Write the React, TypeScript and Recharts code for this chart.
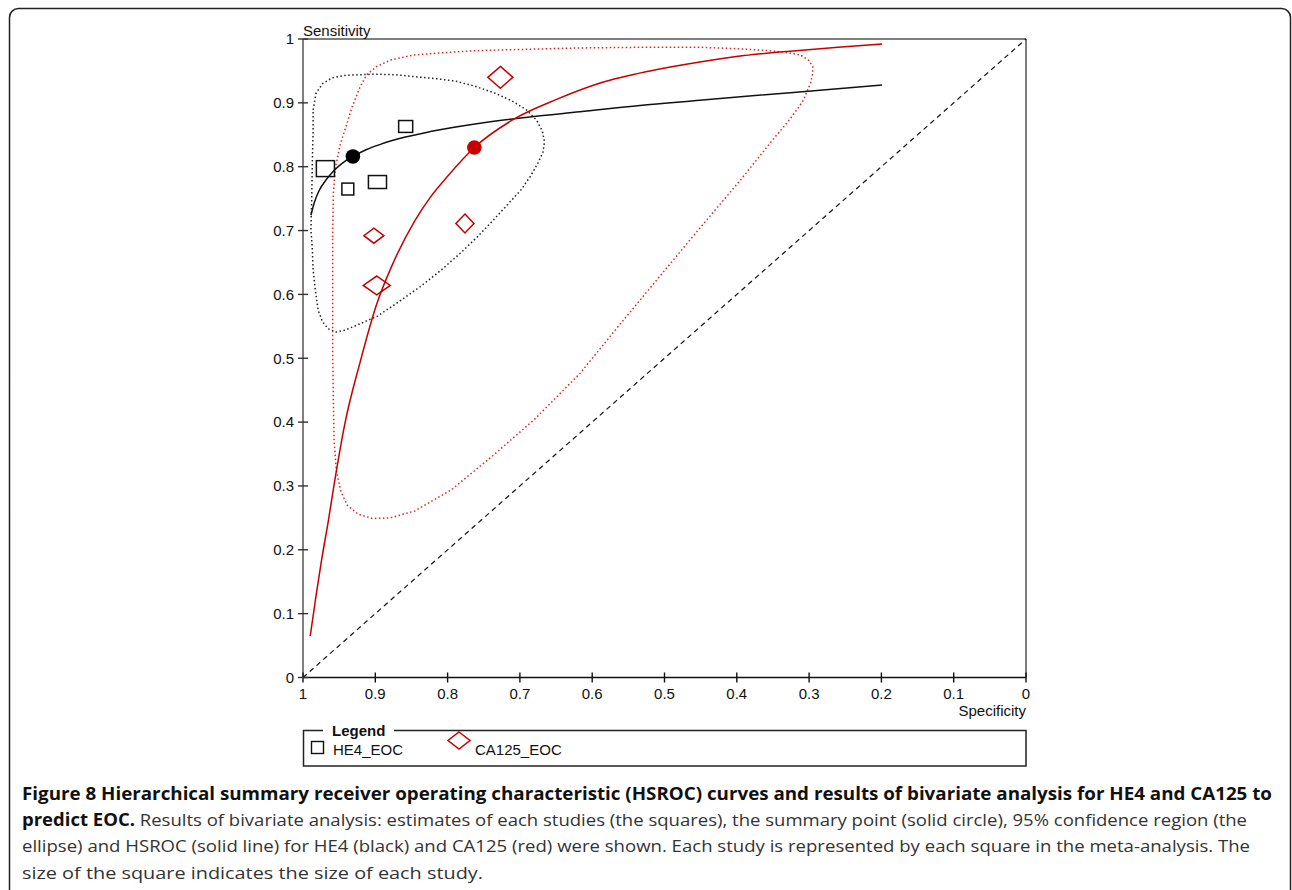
import { ComposedChart, Scatter, XAxis, YAxis, ReferenceLine } from 'recharts'

// axis ticks
const X_TICKS = [1, 0.9, 0.8, 0.7, 0.6, 0.5, 0.4, 0.3, 0.2, 0.1, 0]
const Y_TICKS = [0, 0.1, 0.2, 0.3, 0.4, 0.5, 0.6, 0.7, 0.8, 0.9, 1]

// individual studies: [specificity, sensitivity, rel. width (non-diseased), rel. height (diseased)]
const HE4_STUDIES = [
  [0.969, 0.797, 0.67, 0.59],
  [0.938, 0.765, 0.44, 0.44],
  [0.897, 0.776, 0.67, 0.48],
  [0.858, 0.863, 0.52, 0.44],
]
const CA125_STUDIES = [
  [0.727, 0.94, 0.93, 0.81],
  [0.776, 0.711, 0.67, 0.7],
  [0.902, 0.692, 0.74, 0.56],
  [0.898, 0.614, 1.0, 0.7],
]

// summary points
const HE4_SUMMARY = [[0.931, 0.816]]
const CA125_SUMMARY = [[0.763, 0.83]]

// HSROC curves
const HE4_CURVE = [
  [0.989, 0.724], [0.984, 0.745], [0.978, 0.762], [0.969, 0.778], [0.958, 0.793],
  [0.945, 0.806], [0.931, 0.816], [0.912, 0.827], [0.893, 0.835], [0.86, 0.846],
  [0.824, 0.855], [0.755, 0.868], [0.686, 0.878], [0.617, 0.886], [0.534, 0.896],
  [0.451, 0.904], [0.326, 0.916], [0.199, 0.928],
]
const CA125_CURVE = [
  [0.99, 0.065], [0.982, 0.128], [0.974, 0.186], [0.965, 0.245], [0.957, 0.302],
  [0.942, 0.398], [0.921, 0.494], [0.898, 0.585], [0.875, 0.65], [0.845, 0.716],
  [0.824, 0.752], [0.8, 0.785], [0.763, 0.83], [0.709, 0.874], [0.65, 0.905],
  [0.589, 0.931], [0.52, 0.95], [0.451, 0.964], [0.39, 0.974], [0.326, 0.981],
  [0.26, 0.987], [0.199, 0.992],
]

// 95% confidence regions
const HE4_REGION = [
  [0.986, 0.889], [0.982, 0.915], [0.973, 0.93], [0.96, 0.939], [0.942, 0.943],
  [0.921, 0.944], [0.9, 0.945], [0.872, 0.944], [0.845, 0.941], [0.817, 0.938],
  [0.789, 0.934], [0.762, 0.926], [0.734, 0.915], [0.711, 0.903], [0.691, 0.889],
  [0.677, 0.873], [0.669, 0.856], [0.666, 0.839], [0.668, 0.823], [0.675, 0.806],
  [0.686, 0.784], [0.699, 0.763], [0.716, 0.742], [0.737, 0.716], [0.759, 0.69],
  [0.782, 0.665], [0.81, 0.637], [0.838, 0.612], [0.868, 0.588], [0.897, 0.566],
  [0.921, 0.554], [0.942, 0.544], [0.954, 0.541], [0.965, 0.546], [0.973, 0.557],
  [0.979, 0.575], [0.983, 0.607], [0.986, 0.638], [0.987, 0.669], [0.989, 0.701],
  [0.988, 0.748], [0.987, 0.81], [0.986, 0.857],
]
const CA125_REGION = [
  [0.959, 0.69], [0.958, 0.758], [0.955, 0.8], [0.948, 0.837], [0.939, 0.868],
  [0.932, 0.894], [0.921, 0.925], [0.912, 0.944], [0.898, 0.957], [0.879, 0.967],
  [0.847, 0.975], [0.801, 0.979], [0.755, 0.982], [0.686, 0.984], [0.617, 0.986],
  [0.534, 0.987], [0.451, 0.987], [0.404, 0.985], [0.358, 0.982], [0.331, 0.979],
  [0.312, 0.975], [0.301, 0.967], [0.295, 0.957], [0.295, 0.946], [0.298, 0.931],
  [0.308, 0.904], [0.317, 0.889], [0.331, 0.868], [0.349, 0.844], [0.395, 0.779],
  [0.451, 0.704], [0.506, 0.629], [0.561, 0.554], [0.617, 0.476], [0.681, 0.403],
  [0.741, 0.344], [0.796, 0.293], [0.845, 0.261], [0.879, 0.25], [0.904, 0.249],
  [0.924, 0.256], [0.939, 0.27], [0.948, 0.293], [0.954, 0.325], [0.957, 0.372],
  [0.958, 0.434], [0.959, 0.513], [0.959, 0.591],
]

const toPts = (rows: number[][]) => rows.map(([spec, sens, rw, rh]) => ({ spec, sens, rw, rh }))

const PLOT_LEFT = 303
const PLOT_BOTTOM = 677.5
const MAX_MARK = 27
const RED = '#c40000'
const FONT = "'Liberation Sans', Arial, sans-serif"
const CAP_FONT = "'Open Sans', 'Liberation Sans', sans-serif"

const NoDot = () => <g />

const StudySquare = (p: any) => {
  const w = p.payload.rw * MAX_MARK
  const h = p.payload.rh * MAX_MARK
  return <rect x={p.cx - w / 2} y={p.cy - h / 2} width={w} height={h} fill="none" stroke="#111" strokeWidth={1.5} />
}

const StudyDiamond = (p: any) => {
  const w = p.payload.rw * MAX_MARK / 2
  const h = p.payload.rh * MAX_MARK / 2
  const d = `M${p.cx},${p.cy - h}L${p.cx + w},${p.cy}L${p.cx},${p.cy + h}L${p.cx - w},${p.cy}Z`
  return <path d={d} fill="none" stroke={RED} strokeWidth={1.5} />
}

const Dot = (color: string) => (p: any) => <circle cx={p.cx} cy={p.cy} r={7.3} fill={color} />

const YTick = (p: any) => (
  <g>
    <line x1={PLOT_LEFT - 5} x2={PLOT_LEFT + 5} y1={p.y} y2={p.y} stroke="#333" strokeWidth={1.4} />
    <text x={PLOT_LEFT - 9} y={p.y} dy="0.35em" textAnchor="end" fontSize={15} fill="#111" fontFamily={FONT}>
      {String(p.payload.value)}
    </text>
  </g>
)

const XTick = (p: any) => (
  <g>
    <line x1={p.x} x2={p.x} y1={PLOT_BOTTOM - 5} y2={PLOT_BOTTOM + 5} stroke="#111" strokeWidth={1.4} />
    <text x={p.x} y={PLOT_BOTTOM + 21.5} textAnchor="middle" fontSize={15} fill="#111" fontFamily={FONT}>
      {String(p.payload.value)}
    </text>
  </g>
)

export default function App() {
  return (
    <div style={{ position: 'absolute', left: 0, top: 0, width: 1292, height: 890, overflow: 'hidden', background: '#fff' }}>
      <div style={{ position: 'absolute', left: 0, top: 0 }}>
        <ComposedChart width={1292} height={760} margin={{ top: 39, right: 266, bottom: 52.5, left: 263 }}>
          <XAxis
            type="number"
            dataKey="spec"
            domain={[0, 1]}
            reversed
            ticks={X_TICKS}
            interval={0}
            height={30}
            tick={XTick}
            tickLine={false}
            axisLine={{ stroke: '#111', strokeWidth: 1.5 }}
          />
          <YAxis
            type="number"
            dataKey="sens"
            domain={[0, 1]}
            ticks={Y_TICKS}
            interval={0}
            width={40}
            tick={YTick}
            tickLine={false}
            axisLine={{ stroke: '#555', strokeWidth: 1.5 }}
          />
          <ReferenceLine y={1} stroke="#555" strokeWidth={1.5} />
          <ReferenceLine x={0} stroke="#555" strokeWidth={1.5} />
          <ReferenceLine
            segment={[{ x: 1, y: 0 }, { x: 0, y: 1 }]}
            stroke="#111"
            strokeWidth={1.2}
            strokeDasharray="5 4"
          />
          <Scatter
            data={toPts(HE4_REGION)}
            line={{ stroke: '#222', strokeWidth: 1.5, strokeDasharray: '1.5 2.5' }}
            lineJointType="linearClosed"
            shape={NoDot}
            isAnimationActive={false}
          />
          <Scatter
            data={toPts(CA125_REGION)}
            line={{ stroke: '#e02424', strokeWidth: 1.5, strokeDasharray: '1.5 2.5' }}
            lineJointType="linearClosed"
            shape={NoDot}
            isAnimationActive={false}
          />
          <Scatter
            data={toPts(HE4_CURVE)}
            line={{ stroke: '#111', strokeWidth: 1.5 }}
            lineJointType="monotoneX"
            shape={NoDot}
            isAnimationActive={false}
          />
          <Scatter
            data={toPts(CA125_CURVE)}
            line={{ stroke: RED, strokeWidth: 1.5 }}
            lineJointType="monotoneX"
            shape={NoDot}
            isAnimationActive={false}
          />
          <Scatter data={toPts(HE4_STUDIES)} shape={StudySquare} isAnimationActive={false} />
          <Scatter data={toPts(CA125_STUDIES)} shape={StudyDiamond} isAnimationActive={false} />
          <Scatter data={toPts(HE4_SUMMARY)} shape={Dot('#000')} isAnimationActive={false} />
          <Scatter data={toPts(CA125_SUMMARY)} shape={Dot(RED)} isAnimationActive={false} />
        </ComposedChart>
      </div>
      <svg width={1292} height={890} style={{ position: 'absolute', left: 0, top: 0, pointerEvents: 'none' }}>
        <rect x={9.5} y={8.5} width={1281} height={900} rx={9} fill="none" stroke="#222" strokeWidth={1.5} />
        <text x={303} y={36} fontSize={15} fill="#111" fontFamily={FONT}>Sensitivity</text>
        <text x={1026} y={716} fontSize={15} fill="#111" fontFamily={FONT} textAnchor="end">Specificity</text>

        {/* legend */}
        <rect x={303.5} y={730.5} width={722.5} height={35.5} fill="none" stroke="#222" strokeWidth={1.5} />
        <rect x={323} y={724} width={71} height={12} fill="#fff" />
        <text x={332} y={736} fontSize={15} fontWeight="bold" fill="#111" fontFamily={FONT}>Legend</text>
        <rect x={311.5} y={741.5} width={12} height={12} fill="none" stroke="#111" strokeWidth={1.4} />
        <text x={333} y={755} fontSize={15} fill="#111" fontFamily={FONT}>HE4_EOC</text>
        <path d="M459,732L470,740.5L459,749L448,740.5Z" fill="none" stroke={RED} strokeWidth={1.5} />
        <text x={475} y={755} fontSize={15} fill="#111" fontFamily={FONT}>CA125_EOC</text>

        {/* caption */}
        <text x={22} y={799.5} fontSize={17} fontWeight="bold" fill="#111" fontFamily={CAP_FONT} textLength={1250} lengthAdjust="spacingAndGlyphs">
          Figure 8 Hierarchical summary receiver operating characteristic (HSROC) curves and results of bivariate analysis for HE4 and CA125 to
        </text>
        <text x={22} y={825.5} fontSize={17} fill="#333" fontFamily={CAP_FONT} textLength={1225} lengthAdjust="spacingAndGlyphs">
          <tspan fontWeight="bold" fill="#111">predict EOC.</tspan>
          {' Results of bivariate analysis: estimates of each studies (the squares), the summary point (solid circle), 95% confidence region (the'}
        </text>
        <text x={22} y={852} fontSize={17} fill="#333" fontFamily={CAP_FONT} textLength={1228} lengthAdjust="spacingAndGlyphs">
          ellipse) and HSROC (solid line) for HE4 (black) and CA125 (red) were shown. Each study is represented by each square in the meta-analysis. The
        </text>
        <text x={22} y={878.5} fontSize={17} fill="#333" fontFamily={CAP_FONT} textLength={461} lengthAdjust="spacingAndGlyphs">
          size of the square indicates the size of each study.
        </text>
      </svg>
    </div>
  )
}
